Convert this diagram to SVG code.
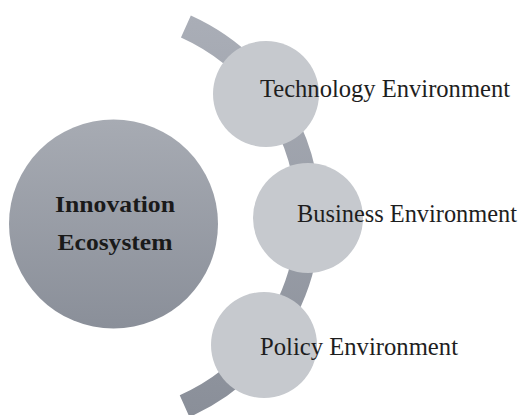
<svg xmlns="http://www.w3.org/2000/svg" width="522" height="415" viewBox="0 0 522 415">
<defs>
<linearGradient id="bandGrad" gradientUnits="userSpaceOnUse" x1="0" y1="14" x2="0" y2="414">
<stop offset="0" stop-color="#aaaeb7"/>
<stop offset="1" stop-color="#8a8f99"/>
</linearGradient>
<linearGradient id="bigGrad" x1="0" y1="0" x2="0" y2="1">
<stop offset="0" stop-color="#a7abb3"/>
<stop offset="1" stop-color="#8a8f99"/>
</linearGradient>
<style>
.small{fill:#c6c9ce;}
.lbl{font-family:"Liberation Serif","Times New Roman",serif;font-size:24.5px;fill:#1e1e1e;}
.main{font-family:"Liberation Serif","Times New Roman",serif;font-size:24px;font-weight:bold;fill:#1a1a1a;text-anchor:middle;}
</style>
</defs>
<rect width="522" height="415" fill="#ffffff"/>
<g id="connectors">
<path d="M185.9,26.5 A208,208 0 0 1 184.6,406.1" fill="none" stroke="url(#bandGrad)" stroke-width="24" stroke-linecap="butt"/>
</g>
<g id="innovation-ecosystem">
<circle cx="113.5" cy="224" r="104.5" fill="url(#bigGrad)"/>
<text class="main" x="115" y="212" textLength="120" lengthAdjust="spacingAndGlyphs">Innovation</text>
<text class="main" x="115" y="250" textLength="115" lengthAdjust="spacingAndGlyphs">Ecosystem</text>
</g>
<g id="technology-environment">
<circle class="small" cx="266" cy="94" r="53"/>
<text class="lbl" x="260" y="97" textLength="250" lengthAdjust="spacingAndGlyphs">Technology Environment</text>
</g>
<g id="business-environment">
<circle class="small" cx="308" cy="218" r="55"/>
<text class="lbl" x="297" y="222" textLength="220" lengthAdjust="spacingAndGlyphs">Business Environment</text>
</g>
<g id="policy-environment">
<circle class="small" cx="264" cy="345" r="53"/>
<text class="lbl" x="260" y="355" textLength="198" lengthAdjust="spacingAndGlyphs">Policy Environment</text>
</g>
</svg>
